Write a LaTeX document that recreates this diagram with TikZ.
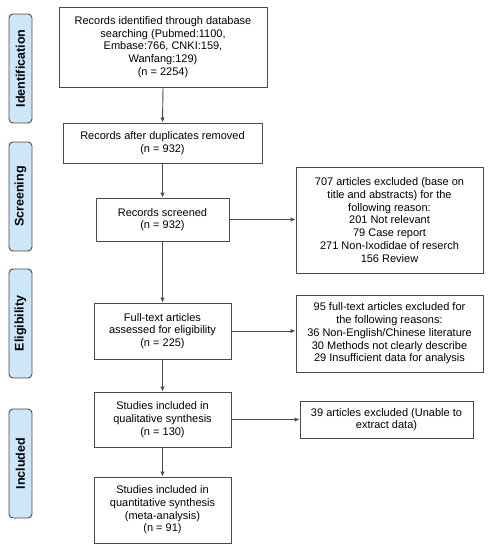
\documentclass[tikz,border=0pt]{standalone}
\usepackage{fontspec}
\setmainfont{Liberation Sans}
\usetikzlibrary{arrows.meta}
\definecolor{linegray}{HTML}{4A4A4A}
\definecolor{phasefill}{HTML}{CDE7F8}
\begin{document}
\begin{tikzpicture}[x=1pt,y=-1pt,
  box/.style={draw=linegray, line width=0.9pt, fill=white, align=center, inner sep=0pt,
    font=\fontsize{11}{12.7}\selectfont},
  phase/.style={draw=linegray, line width=0.9pt, fill=phasefill, rounded corners=4pt,
    minimum height=23pt, minimum width=109pt, inner sep=0pt, font=\bfseries\fontsize{12.5}{14}\selectfont, rotate=90},
  arr/.style={draw=linegray, line width=0.9pt, -{Latex[length=5pt,width=4.5pt]}}]
\useasboundingbox (0,0) rectangle (492,550);
% phase labels
\node[phase] (pid) at (20.5,68.5) {Identification};
\node[phase] (psc) at (20.5,196.5) {Screening};
\node[phase] (pel) at (20.5,323.5) {Eligibility};
\node[phase] (pin) at (20.5,463.5) {Included};
% main boxes
\node[box, minimum width=208pt, minimum height=80pt] (b1) at (163,47)
  {Records identified through database\\searching (Pubmed:1100,\\Embase:766, CNKI:159,\\Wanfang:129)\\(n = 2254)};
\node[box, minimum width=199pt, minimum height=40pt] (b2) at (162.5,143)
  {Records after duplicates removed\\(n = 932)};
\node[box, minimum width=133pt, minimum height=43pt] (b3) at (162.5,219.5)
  {Records screened\\(n = 932)};
\node[box, minimum width=137pt, minimum height=56pt] (b4) at (162.5,331)
  {Full-text articles\\assessed for eligibility\\(n = 225)};
\node[box, minimum width=137pt, minimum height=55pt] (b5) at (162.5,419.5)
  {Studies included in\\qualitative synthesis\\(n = 130)};
\node[box, minimum width=137pt, minimum height=66pt] (b6) at (162.5,510)
  {Studies included in\\quantitative synthesis\\(meta-analysis)\\(n = 91)};
% exclusion boxes
\node[box, minimum width=187pt, minimum height=106pt] (r1) at (389.5,220)
  {707 articles excluded (base on\\title and abstracts) for the\\following reason:\\201 Not relevant\\79 Case report\\271 Non-Ixodidae of reserch\\156 Review};
\node[box, minimum width=187pt, minimum height=77pt] (r2) at (389.5,333.5)
  {95 full-text articles excluded for\\the following reasons:\\36 Non-English/Chinese literature\\30 Methods not clearly describe\\29 Insufficient data for analysis};
\node[box, minimum width=173pt, minimum height=37pt] (r3) at (386.5,419.5)
  {39 articles excluded (Unable to\\extract data)};
% connectors
\draw[arr] (b1.south) -- (b2.north);
\draw[arr] (b2.south) -- (b3.north);
\draw[arr] (b3.south) -- (b4.north);
\draw[arr] (b4.south) -- (b5.north);
\draw[arr] (b5.south) -- (b6.north);
\draw[arr] (b3.east) -- (b3.east -| r1.west);
\draw[arr] (b4.east) -- (b4.east -| r2.west);
\draw[arr] (b5.east) -- (b5.east -| r3.west);
\end{tikzpicture}
\end{document}
